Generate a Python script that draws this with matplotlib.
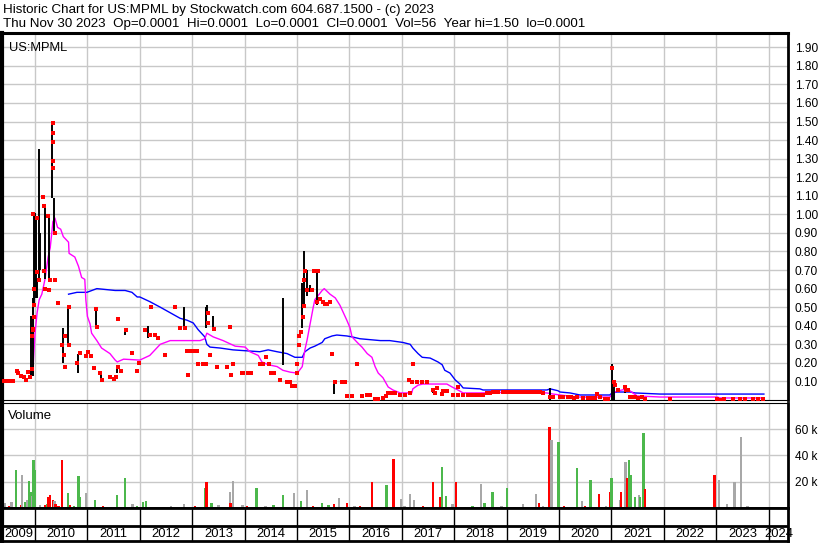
import matplotlib
matplotlib.use("Agg")
import matplotlib.pyplot as plt

plt.rcParams["font.family"] = ["Liberation Sans", "DejaVu Sans"]

# ---- data (dates in decimal years) ----
header1 = "Historic Chart for US:MPML by Stockwatch.com 604.687.1500 - (c) 2023"
header2 = "Thu Nov 30 2023  Op=0.0001  Hi=0.0001  Lo=0.0001  Cl=0.0001  Vol=56  Year hi=1.50  lo=0.0001"
symbol = "US:MPML"

years = list(range(2009, 2025))
price_ticks = [0.10, 0.20, 0.30, 0.40, 0.50, 0.60, 0.70, 0.80, 0.90, 1.00,
               1.10, 1.20, 1.30, 1.40, 1.50, 1.60, 1.70, 1.80, 1.90]
vol_ticks = [20000, 40000, 60000]
vol_tick_labels = ["20 k", "40 k", "60 k"]

# daily high/low bars
bar_dates = [2009.92, 2009.97, 2009.99, 2010.00, 2010.02, 2010.04, 2010.08, 2010.09,
             2010.19, 2010.27, 2010.33, 2010.37, 2010.54, 2010.63, 2010.82, 2011.16,
             2011.26, 2011.56, 2011.72, 2012.16, 2012.84, 2013.26, 2013.28, 2013.40,
             2014.73, 2015.10, 2015.14, 2015.19, 2015.25, 2015.38, 2015.71, 2017.59,
             2019.83, 2021.01, 2021.04, 2021.26]
bar_lo = [0.12, 0.13, 0.50, 0.60, 0.55, 0.55, 0.65, 0.70,
          0.65, 0.65, 1.09, 0.90, 0.20, 0.30, 0.145, 0.39,
          0.11, 0.145, 0.35, 0.335, 0.39, 0.39, 0.46, 0.38,
          0.19, 0.39, 0.50, 0.56, 0.58, 0.51, 0.03, 0.04,
          0.0, 0.0, 0.0, 0.04]
bar_hi = [0.45, 0.55, 1.00, 1.01, 0.98, 0.65, 1.35, 0.90,
          1.05, 1.00, 1.49, 1.09, 0.39, 0.51, 0.25, 0.49,
          0.145, 0.18, 0.38, 0.40, 0.50, 0.50, 0.51, 0.45,
          0.55, 0.63, 0.80, 0.70, 0.62, 0.70, 0.10, 0.065,
          0.065, 0.195, 0.11, 0.08]

# red open/close marks
tick_dates = [2009.38, 2009.40, 2009.42, 2009.44, 2009.46, 2009.51, 2009.53, 2009.55, 2009.58,
              2009.65, 2009.68, 2009.73, 2009.79,
              2009.83, 2009.87, 2009.90, 2009.94, 2009.94, 2009.97, 2009.99, 2009.97,
              2010.04, 2009.99, 2009.99, 2009.96, 2010.04, 2010.15, 2010.18, 2010.35,
              2010.35, 2010.34, 2010.35, 2010.35, 2010.24, 2010.38, 2010.08, 2010.29,
              2010.38, 2010.17, 2010.19, 2010.27, 2010.43, 2010.65, 2010.58, 2010.51,
              2010.64, 2010.55, 2010.57, 2010.80, 2010.86, 2010.97, 2011.01, 2011.06,
              2011.12, 2011.24, 2011.27, 2011.43, 2011.51, 2011.55, 2011.59, 2011.58,
              2011.64, 2011.74, 2011.85, 2011.94, 2011.99, 2011.19, 2011.16,
              2012.10, 2012.19, 2012.29, 2012.35, 2012.48, 2012.22, 2012.67, 2012.77,
              2012.86, 2012.92,
              2012.90, 2012.96, 2013.04, 2013.09, 2013.11, 2013.21, 2013.26, 2013.30,
              2013.30, 2013.34, 2013.41, 2013.47, 2013.66, 2013.72, 2013.78, 2013.74,
              2013.95, 2013.97, 2014.06, 2014.12, 2014.29, 2014.35, 2014.41, 2014.46,
              2014.50, 2014.56, 2014.68, 2014.81, 2014.87, 2014.90, 2014.96, 2015.00,
              2015.00, 2015.04, 2015.04, 2015.08, 2015.12, 2015.13, 2015.13, 2015.15,
              2015.19, 2015.29, 2015.32, 2015.38, 2015.40, 2015.44, 2015.50, 2015.53,
              2015.57, 2015.63, 2015.67, 2015.73, 2015.86, 2015.92, 2015.95, 2016.05,
              2016.15, 2016.24, 2016.34, 2016.39, 2016.49, 2016.55,
              2016.64, 2016.70, 2016.74, 2016.81, 2016.87, 2016.97, 2017.06, 2017.16,
              2017.21, 2017.14, 2017.19, 2017.29, 2017.39, 2017.48, 2017.60, 2017.63,
              2017.67, 2017.77, 2017.79, 2017.86, 2017.98, 2018.07, 2018.07, 2018.17,
              2018.26, 2018.44, 2018.55, 2018.63, 2018.74, 2018.84, 2018.93, 2019.07,
              2019.20, 2019.35, 2019.39, 2019.58, 2019.69, 2019.83, 2019.89, 2020.02,
              2020.17, 2020.34, 2020.46, 2020.63, 2020.73, 2020.78, 2020.88, 2020.94,
              2021.01, 2021.05, 2021.07, 2021.13, 2021.26, 2021.28, 2021.32, 2021.39,
              2021.45, 2021.58, 2021.64, 2022.12, 2023.02, 2023.07, 2023.32, 2023.45,
              2023.70, 2023.89,
              # extra marks along the low-price stretch
              2018.31, 2018.36, 2018.50, 2018.68, 2018.79, 2018.98, 2019.12, 2019.25,
              2019.30, 2019.44, 2019.50, 2019.63, 2020.07, 2020.22, 2020.28, 2020.55,
              2020.68, 2021.35, 2021.42, 2021.50, 2023.15, 2023.55, 2023.80]
tick_prices = [0.10, 0.10, 0.10, 0.10, 0.10, 0.10, 0.10, 0.10, 0.10,
               0.158, 0.147, 0.13, 0.124,
               0.108, 0.152, 0.126, 0.167, 0.345, 0.377, 0.449, 1.00,
               0.98, 0.60, 0.51, 0.38, 0.69, 1.094, 1.045, 1.49,
               1.44, 1.39, 1.29, 1.25, 0.99, 0.90, 0.647, 0.647,
               0.647, 0.695, 0.60, 0.59, 0.52, 0.50, 0.345, 0.296,
               0.296, 0.24, 0.178, 0.20, 0.253, 0.237, 0.259, 0.237,
               0.172, 0.145, 0.108, 0.124, 0.113, 0.124, 0.436, 0.178,
               0.156, 0.377, 0.253, 0.156, 0.20, 0.393, 0.49,
               0.377, 0.35, 0.35, 0.334, 0.24, 0.50, 0.50, 0.39,
               0.39, 0.135,
               0.264, 0.264, 0.264, 0.264, 0.194, 0.194, 0.194, 0.469,
               0.415, 0.242, 0.383, 0.178, 0.178, 0.393, 0.194, 0.135,
               0.145, 0.145, 0.145, 0.145, 0.194, 0.194, 0.232, 0.194,
               0.145, 0.145, 0.108, 0.097, 0.097, 0.075, 0.075, 0.145,
               0.194, 0.296, 0.345, 0.366, 0.447, 0.506, 0.647, 0.695,
               0.593, 0.593, 0.695, 0.528, 0.695, 0.544, 0.528, 0.517,
               0.517, 0.528, 0.248, 0.097, 0.097, 0.097, 0.022, 0.022,
               0.194, 0.022, 0.027, 0.027, 0.005, 0.005,
               0.011, 0.022, 0.038, 0.038, 0.038, 0.027, 0.027, 0.038,
               0.194, 0.108, 0.097, 0.097, 0.097, 0.097, 0.054, 0.038,
               0.065, 0.032, 0.048, 0.048, 0.027, 0.027, 0.07, 0.027,
               0.027, 0.027, 0.027, 0.038, 0.043, 0.043, 0.043, 0.043,
               0.043, 0.043, 0.043, 0.043, 0.038, 0.016, 0.016, 0.016,
               0.016, 0.016, 0.011, 0.011, 0.032, 0.016, 0.005, 0.005,
               0.172, 0.097, 0.081, 0.054, 0.07, 0.054, 0.054, 0.016,
               0.016, 0.016, 0.005, 0.005, 0.005, 0.002, 0.005, 0.005,
               0.005, 0.005,
               0.027, 0.027, 0.027, 0.038, 0.043, 0.043, 0.043, 0.043,
               0.043, 0.043, 0.043, 0.043, 0.016, 0.016, 0.011, 0.011,
               0.011, 0.016, 0.016, 0.011, 0.005, 0.005, 0.005]

# short moving average (magenta)
ma_short_dates = [2009.90, 2009.96, 2010.00, 2010.04, 2010.08, 2010.13, 2010.19, 2010.25,
                  2010.29, 2010.32, 2010.34, 2010.38, 2010.43, 2010.49, 2010.54, 2010.64,
                  2010.65, 2010.76, 2010.83, 2010.89, 2010.95, 2010.97, 2011.00, 2011.05,
                  2011.08, 2011.18, 2011.27, 2011.43, 2011.53, 2011.57, 2011.69, 2012.00,
                  2012.19, 2012.39, 2012.58, 2012.77, 2013.15, 2013.24, 2013.28, 2013.40,
                  2013.59, 2013.82, 2014.01, 2014.10, 2014.26, 2014.33, 2014.45, 2014.62,
                  2014.73, 2014.87, 2015.00, 2015.02, 2015.10, 2015.15, 2015.19, 2015.25,
                  2015.31, 2015.34, 2015.48, 2015.52, 2015.63, 2015.73, 2015.82, 2015.95,
                  2016.01, 2016.05, 2016.15, 2016.24, 2016.34, 2016.43, 2016.49, 2016.55,
                  2016.64, 2016.74, 2016.83, 2016.97, 2017.19, 2017.21, 2017.31, 2017.40,
                  2017.86, 2017.96, 2018.07, 2018.17, 2018.49, 2019.26, 2019.77, 2019.89,
                  2020.02, 2020.36, 2020.97, 2021.03, 2021.11, 2021.30, 2021.41, 2021.49,
                  2021.93, 2023.02, 2023.07, 2023.91]
ma_short = [0.12, 0.16, 0.36, 0.47, 0.54, 0.57, 0.65, 0.77,
            0.82, 0.90, 0.96, 0.98, 0.93, 0.92, 0.88, 0.85,
            0.79, 0.77, 0.72, 0.66, 0.65, 0.54, 0.45, 0.41,
            0.36, 0.32, 0.28, 0.25, 0.215, 0.205, 0.22, 0.215,
            0.24, 0.30, 0.32, 0.32, 0.32, 0.33, 0.36, 0.34,
            0.32, 0.29, 0.285, 0.26, 0.24, 0.205, 0.19, 0.18,
            0.16, 0.15, 0.145, 0.15, 0.18, 0.27, 0.32, 0.41,
            0.50, 0.54, 0.59, 0.60, 0.57, 0.55, 0.51, 0.43,
            0.39, 0.34, 0.31, 0.285, 0.25, 0.23, 0.18, 0.145,
            0.12, 0.07, 0.054, 0.038, 0.038, 0.06, 0.08, 0.086,
            0.086, 0.07, 0.054, 0.038, 0.038, 0.043, 0.038, 0.032,
            0.027, 0.016, 0.016, 0.038, 0.048, 0.06, 0.038, 0.022,
            0.016, 0.016, 0.011, 0.011]

# long moving average (blue)
ma_long_dates = [2010.64, 2010.80, 2010.90, 2010.99, 2011.18, 2011.53, 2011.72, 2011.85,
                 2011.95, 2012.00, 2012.19, 2012.39, 2012.58, 2012.77, 2012.90, 2013.02,
                 2013.11, 2013.24, 2013.28, 2013.34, 2013.53, 2013.78, 2014.29, 2014.45,
                 2014.62, 2014.81, 2014.96, 2015.10, 2015.15, 2015.25, 2015.34, 2015.48,
                 2015.53, 2015.67, 2015.76, 2015.95, 2016.05, 2016.20, 2016.59, 2016.77,
                 2017.02, 2017.16, 2017.21, 2017.31, 2017.39, 2017.54, 2017.69, 2017.77,
                 2017.82, 2017.92, 2018.02, 2018.11, 2018.17, 2018.49, 2018.55, 2019.77,
                 2019.83, 2019.98, 2020.02, 2020.21, 2020.40, 2020.97, 2021.01, 2021.11,
                 2021.36, 2021.45, 2021.93, 2023.91]
ma_long = [0.57, 0.58, 0.58, 0.58, 0.60, 0.59, 0.59, 0.58,
           0.555, 0.555, 0.53, 0.50, 0.47, 0.44, 0.43, 0.415,
           0.38, 0.34, 0.30, 0.285, 0.28, 0.27, 0.26, 0.27,
           0.26, 0.25, 0.23, 0.23, 0.26, 0.28, 0.29, 0.31,
           0.33, 0.345, 0.35, 0.345, 0.34, 0.33, 0.32, 0.32,
           0.31, 0.30, 0.28, 0.25, 0.23, 0.226, 0.205, 0.19,
           0.16, 0.145, 0.108, 0.086, 0.065, 0.06, 0.054, 0.054,
           0.06, 0.05, 0.043, 0.038, 0.027, 0.027, 0.038, 0.043,
           0.043, 0.038, 0.032, 0.032]

# volume bars: g = up day, r = down day, n = unchanged
vol_dates = [2009.43, 2009.55, 2009.64, 2009.73, 2009.75, 2009.82, 2009.85, 2009.89,
             2009.92, 2009.94, 2009.97, 2010.00, 2010.19, 2010.23, 2010.26, 2010.29,
             2010.34, 2010.37, 2010.39, 2010.52, 2010.63, 2010.67, 2010.83, 2010.85,
             2010.97, 2011.15, 2011.57, 2011.72, 2011.86, 2012.06, 2012.12, 2012.84,
             2013.25, 2013.27, 2013.37, 2013.72, 2013.73, 2013.78, 2013.96, 2014.23,
             2014.73, 2014.94, 2015.07, 2015.19, 2015.48, 2015.70, 2015.80, 2015.95,
             2016.43, 2016.71, 2016.84, 2016.98, 2017.16, 2017.23, 2017.60, 2017.74,
             2017.77, 2017.84, 2017.97, 2018.04, 2018.51, 2018.58, 2018.73, 2019.01,
             2019.31, 2019.56, 2019.62, 2019.82, 2019.86, 2019.99, 2020.34, 2020.44,
             2020.60, 2020.76, 2020.98, 2021.00, 2021.16, 2021.18, 2021.27, 2021.31,
             2021.33, 2021.37, 2021.45, 2021.53, 2021.55, 2021.61, 2021.64, 2022.97,
             2023.05, 2023.21, 2023.35, 2023.47, 2023.76,
             # small bars near the baseline
             2009.50, 2010.10, 2010.45, 2010.75, 2011.05, 2011.30, 2011.45, 2011.95,
             2012.30, 2012.45, 2012.60, 2013.05, 2013.50, 2013.60, 2014.05, 2014.40,
             2014.55, 2015.30, 2015.40, 2015.60, 2016.10, 2016.20, 2016.60, 2017.05,
             2017.40, 2018.20, 2018.35, 2018.90, 2019.15, 2019.70, 2020.10, 2020.25,
             2020.50, 2020.90, 2022.10, 2023.60]
vol_values = [3800, 4600, 29000, 2000, 25000, 4600, 6000, 20500,
              12000, 9000, 36500, 29000, 2000, 3000, 8400, 9900,
              6000, 5000, 3000, 36500, 11400, 2000, 24300, 8400,
              11400, 6000, 9900, 22800, 3000, 4600, 5000, 3000,
              15200, 19800, 4000, 12000, 4000, 20500, 2500, 15200,
              9900, 11400, 5000, 13700, 4000, 3000, 7600, 3500,
              19800, 17500, 37200, 7000, 11000, 6000, 19800, 8400,
              31000, 9000, 3000, 19800, 18200, 4000, 12000, 15200,
              3000, 10600, 4000, 61600, 51700, 50200, 30400, 5000,
              21300, 10600, 12000, 22800, 6000, 12000, 35000, 22800,
              36500, 25000, 8000, 10000, 8000, 57000, 14400, 25000,
              21300, 3000, 19800, 54000, 1000,
              1500, 2500, 1200, 1800, 1000, 1500, 800, 1200,
              1000, 900, 1500, 1200, 2000, 1000, 1500, 1200,
              2500, 1500, 1000, 2000, 1200, 1500, 1000, 1800,
              1200, 1000, 1500, 1200, 1000, 1500, 1200, 1000,
              1500, 1200, 800, 1200]
vol_kind = ["n", "n", "g", "r", "n", "g", "n", "g",
            "g", "n", "g", "g", "r", "g", "r", "r",
            "r", "n", "r", "r", "g", "r", "g", "g",
            "n", "g", "g", "g", "n", "g", "g", "n",
            "g", "r", "g", "n", "r", "n", "n", "g",
            "g", "n", "g", "n", "g", "r", "n", "r",
            "r", "g", "r", "n", "n", "n", "r", "r",
            "g", "g", "n", "r", "n", "g", "g", "g",
            "n", "n", "r", "r", "n", "g", "g", "n",
            "g", "r", "r", "g", "n", "r", "n", "r",
            "g", "g", "g", "n", "g", "g", "r", "r",
            "n", "n", "n", "n", "n",
            "r", "n", "r", "g", "n", "r", "n", "g",
            "n", "r", "n", "r", "n", "g", "r", "n",
            "g", "r", "n", "g", "n", "r", "g", "n",
            "r", "n", "g", "n", "r", "n", "r", "n",
            "r", "n", "n", "n"]

kind_color = {"g": "#4cb84c", "r": "#ff0000", "n": "#a8a8a8"}
grid_col = "#c8c8c8"

W, H = 830, 543
fig = plt.figure(figsize=(W / 100, H / 100), dpi=100)

x0, x1 = 2, 788
xmin, xmax = 2009.37, 2024.37


def box(top, bottom):
    # pixel rows -> figure fraction rect
    return [x0 / W, 1 - bottom / H, (x1 - x0) / W, (bottom - top) / H]


ax_p = fig.add_axes(box(33, 400))
ax_v = fig.add_axes(box(403, 508))
ax_d = fig.add_axes(box(508, 541))

for ax in (ax_p, ax_v, ax_d):
    ax.set_xlim(xmin, xmax)
    ax.set_xticks([])
    for s in ax.spines.values():
        s.set_color("black")

# ---- price panel ----
ax_p.set_ylim(0, 1.977)
for y in years[1:]:
    ax_p.axvline(y, color=grid_col, lw=1, zorder=0)
    ax_v.axvline(y, color=grid_col, lw=1, zorder=0)
for p in price_ticks:
    ax_p.axhline(p, color=grid_col, lw=1, zorder=0)

ax_p.plot(ma_long_dates, ma_long, color="#0000ff", lw=1.0, zorder=2)
ax_p.plot(ma_short_dates, ma_short, color="#ff00ff", lw=1.0, zorder=2)
ax_p.vlines(bar_dates, bar_lo, bar_hi, color="black", lw=1.4, zorder=3)
ax_p.plot(tick_dates, tick_prices, "s", color="#ff0000", ms=2.4, mew=0, zorder=4)

ax_p.yaxis.tick_right()
ax_p.set_yticks(price_ticks)
ax_p.set_yticklabels(["%.2f" % p for p in price_ticks])
ax_p.tick_params(axis="y", length=0, pad=5, labelsize=8.6)
ax_p.text(0.009, 0.975, symbol, transform=ax_p.transAxes, fontsize=9.3,
          va="top", ha="left")

ax_p.spines["left"].set_linewidth(3)
ax_p.spines["right"].set_linewidth(2)
ax_p.spines["top"].set_linewidth(2.2)
ax_p.spines["bottom"].set_linewidth(0.8)

# ---- volume panel ----
ax_v.set_ylim(0, 79850)
for v in vol_ticks:
    ax_v.axhline(v, color=grid_col, lw=1, zorder=0)
ax_v.bar(vol_dates, vol_values, width=0.045, color=[kind_color[k] for k in vol_kind],
         linewidth=0, zorder=2)
ax_v.yaxis.tick_right()
ax_v.set_yticks(vol_ticks)
ax_v.set_yticklabels(vol_tick_labels)
ax_v.tick_params(axis="y", length=0, pad=5, labelsize=8.6)
ax_v.text(0.008, 0.93, "Volume", transform=ax_v.transAxes, fontsize=9.5,
          va="top", ha="left")
ax_v.spines["left"].set_linewidth(3)
ax_v.spines["right"].set_linewidth(2)
ax_v.spines["top"].set_linewidth(0.8)
ax_v.spines["bottom"].set_linewidth(2)

# ---- date strip ----
ax_d.set_ylim(0, 1)
ax_d.set_yticks([])
ax_d.axhline(15 / 33, color="black", lw=2)
for y in years[1:]:
    ax_d.axvline(y, color="black", lw=1)
for y in years:
    xc = y + 0.5 if y < 2024 else 2024.19
    if y == 2009:
        xc = (xmin + 2010) / 2
    ax_d.text(xc, 0.22, str(y), ha="center", va="center", fontsize=9.4)
ax_d.spines["left"].set_linewidth(3)
ax_d.spines["right"].set_linewidth(2)
ax_d.spines["top"].set_linewidth(2)
ax_d.spines["bottom"].set_linewidth(2)

# ---- header ----
fig.text(3 / W, 1 - 12.5 / H, header1, fontsize=9.65, va="baseline", ha="left")
fig.text(3 / W, 1 - 26.5 / H, header2, fontsize=9.65, va="baseline", ha="left")

fig.savefig("out.png", dpi=100)
